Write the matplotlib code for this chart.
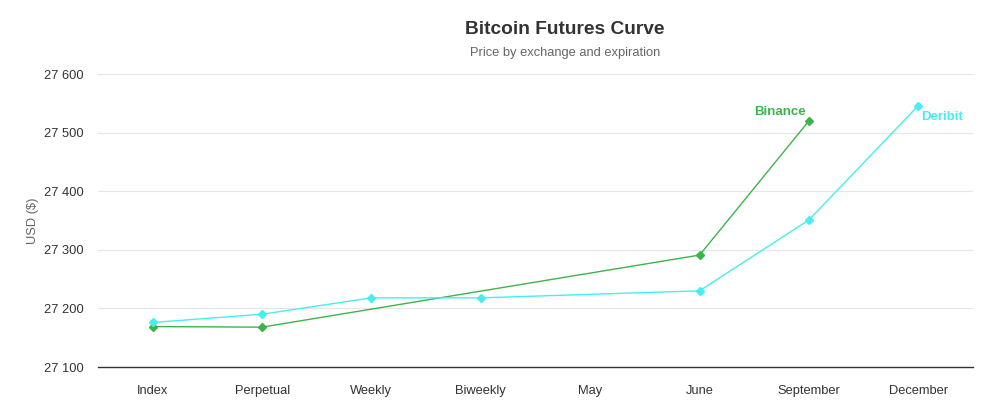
import matplotlib
matplotlib.use("Agg")
import matplotlib.pyplot as plt
import numpy as np

plt.rcParams['font.family'] = ['Liberation Sans', 'DejaVu Sans']

categories = ["Index", "Perpetual", "Weekly", "Biweekly", "May", "June", "September", "December"]
binance = [27169, 27168, None, None, None, 27291, 27520, None]
deribit = [27176, 27190, 27218, 27218, None, 27230, 27351, 27546]
yticks = [27100, 27200, 27300, 27400, 27500, 27600]
ytick_labels = ["27 100", "27 200", "27 300", "27 400", "27 500", "27 600"]

green = "#3bb54a"
cyan = "#45eef0"

W, H = 987, 417
fig = plt.figure(figsize=(W / 100, H / 100), dpi=100)
ax = fig.add_axes([98 / W, 1 - 367 / H, (973 - 98) / W, (367 - 74) / H])

x = np.arange(len(categories))

def series(vals):
    xs = [i for i, v in enumerate(vals) if v is not None]
    ys = [v for v in vals if v is not None]
    return xs, ys

bx, by = series(binance)
dx, dy = series(deribit)
ax.plot(bx, by, color=green, lw=1, marker="D", ms=4.2, zorder=3)
ax.plot(dx, dy, color=cyan, lw=1, marker="D", ms=4.2, zorder=3)

ax.annotate("Binance", (bx[-1], by[-1]), xytext=(-2, 2), textcoords="offset points",
            ha="right", va="bottom", color=green, fontsize=9.5, fontweight="bold")
ax.annotate("Deribit", (dx[-1], dy[-1]), xytext=(2, -4), textcoords="offset points",
            ha="left", va="top", color=cyan, fontsize=9.5, fontweight="bold")

ax.set_xlim(-0.5, len(categories) - 0.5)
ax.set_ylim(27100, 27600)
ax.set_xticks(x)
ax.set_xticklabels(categories)
ax.set_yticks(yticks)
ax.set_yticklabels(ytick_labels)
ax.tick_params(axis="both", length=0, labelsize=9.3, colors="#333333")
ax.tick_params(axis="x", pad=13)
ax.tick_params(axis="y", pad=10)
ax.grid(axis="y", color="#e6e6e6", lw=0.8)
ax.set_axisbelow(True)
for s in ["top", "right", "left"]:
    ax.spines[s].set_visible(False)
ax.spines["bottom"].set_color("#333333")
ax.spines["bottom"].set_linewidth(1)

ax.set_ylabel("USD ($)", fontsize=9.3, color="#666666", labelpad=4)

fig.text(565 / W, 1 - 30 / H, "Bitcoin Futures Curve", ha="center", va="center",
         fontsize=13.8, fontweight="bold", color="#333333")
fig.text(565 / W, 1 - 53 / H, "Price by exchange and expiration", ha="center", va="center",
         fontsize=9.25, color="#666666")

fig.savefig("out.png", dpi=100)
